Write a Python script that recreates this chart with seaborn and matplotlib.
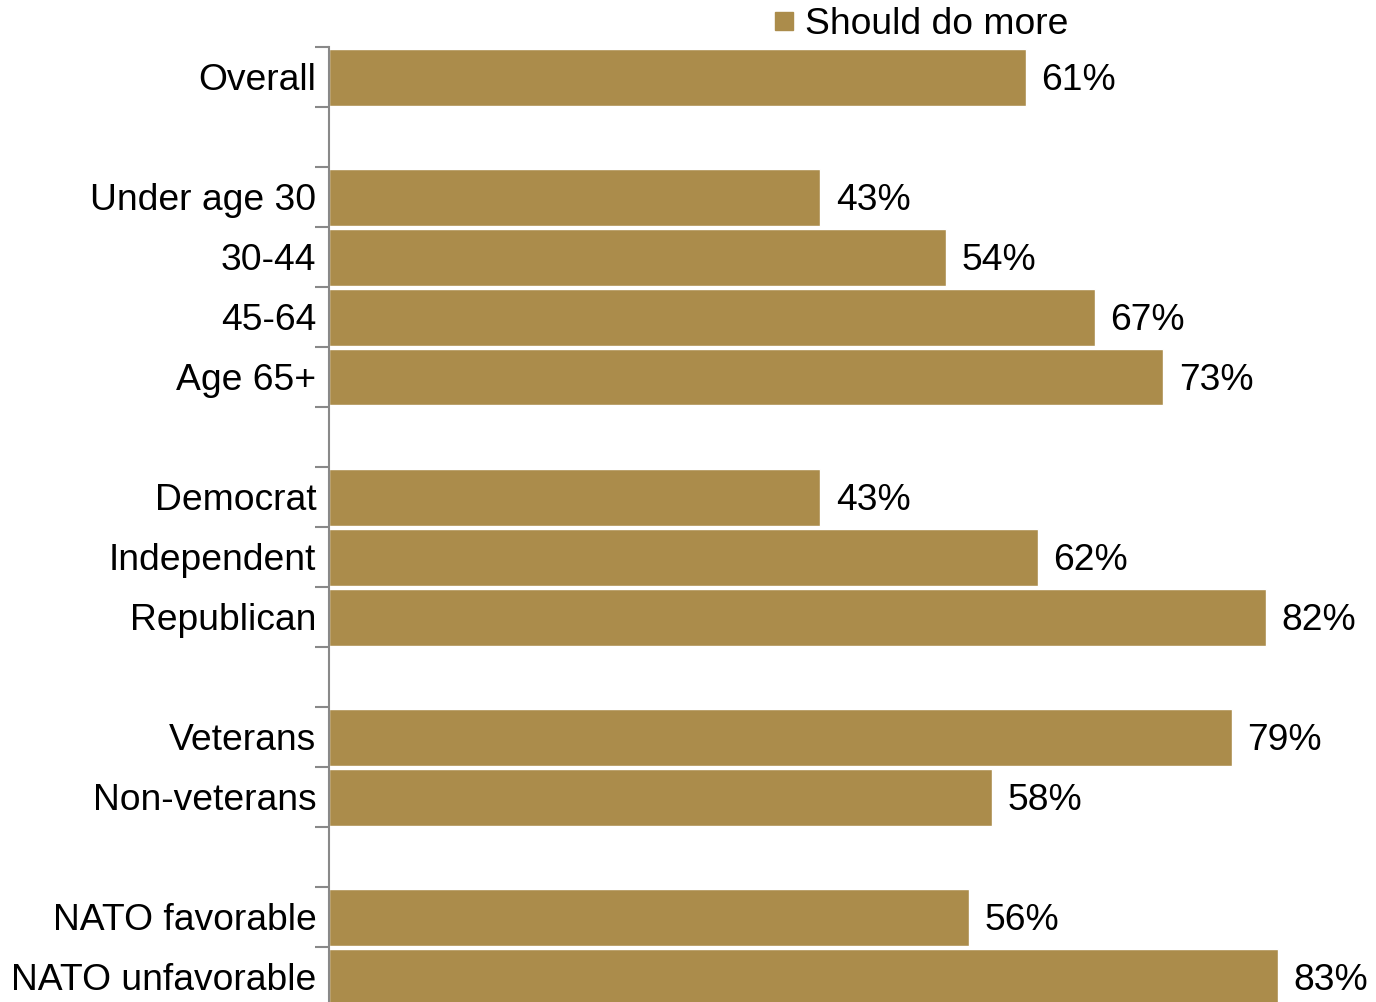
import numpy as np
import pandas as pd
import matplotlib
matplotlib.use("Agg")
import matplotlib.pyplot as plt
from matplotlib.lines import Line2D
import seaborn as sns

# data (None = empty spacer row between groups)
labels = ["Overall", "",
          "Under age 30", "30-44", "45-64", "Age 65+", "",
          "Democrat", "Independent", "Republican", "",
          "Veterans", "Non-veterans", "",
          "NATO favorable", "NATO unfavorable"]
values = [61, None,
          43, 54, 67, 73, None,
          43, 62, 82, None,
          79, 58, None,
          56, 83]
series_name = "Should do more"
bar_color = "#AB8C4B"
fs = 26.8

keys = [lab if lab else f"gap{i}" for i, lab in enumerate(labels)]
df = pd.DataFrame({"key": keys, "value": values}).dropna()

sns.set_style("white")
plt.rcParams["font.family"] = ["Liberation Sans", "DejaVu Sans"]
plt.rcParams["text.color"] = "black"
plt.rcParams["ytick.labelcolor"] = "black"

W, H = 1376, 1002
fig = plt.figure(figsize=(W / 100, H / 100), dpi=100)
ax = fig.add_axes([329 / W, -5 / H, (W - 329) / W, 960 / H])

sns.barplot(data=df, x="value", y="key", order=keys, color=bar_color,
            width=0.95, saturation=1, ax=ax, orient="h")

texts = ax.bar_label(ax.containers[0], fmt="{:.0f}%", padding=11, fontsize=fs,
                     color="black")
for t in texts:
    t.set_va("center_baseline")

n = len(labels)
ax.set_ylim(n - 0.5, -0.5)
ax.set_xlim(0, (W - 329) / 11.43)
ax.set_yticks(range(n), labels)
ax.set_yticks(np.arange(-0.5, n, 1), minor=True)
ax.tick_params(axis="y", which="major", length=0, pad=9, labelsize=fs,
               labelcolor="black")
ax.tick_params(axis="y", which="minor", length=10, width=1.5, color="#898989", left=True)
for t in ax.get_yticklabels():
    t.set_va("center_baseline")
ax.set_xticks([])
ax.set_xlabel("")
ax.set_ylabel("")

for s in ["top", "right", "bottom"]:
    ax.spines[s].set_visible(False)
ax.spines["left"].set_color("#898989")
ax.spines["left"].set_linewidth(1.5)

handle = Line2D([], [], marker="s", linestyle="none", markersize=13,
                markerfacecolor=bar_color, markeredgecolor=bar_color)
fig.legend([handle], [series_name], loc="center left",
           bbox_to_anchor=(773 / W, 1 - 25 / H), frameon=False,
           fontsize=fs, handlelength=0.6, handletextpad=0.25, borderpad=0,
           borderaxespad=0, labelcolor="black")

fig.savefig("out.png", dpi=100)
